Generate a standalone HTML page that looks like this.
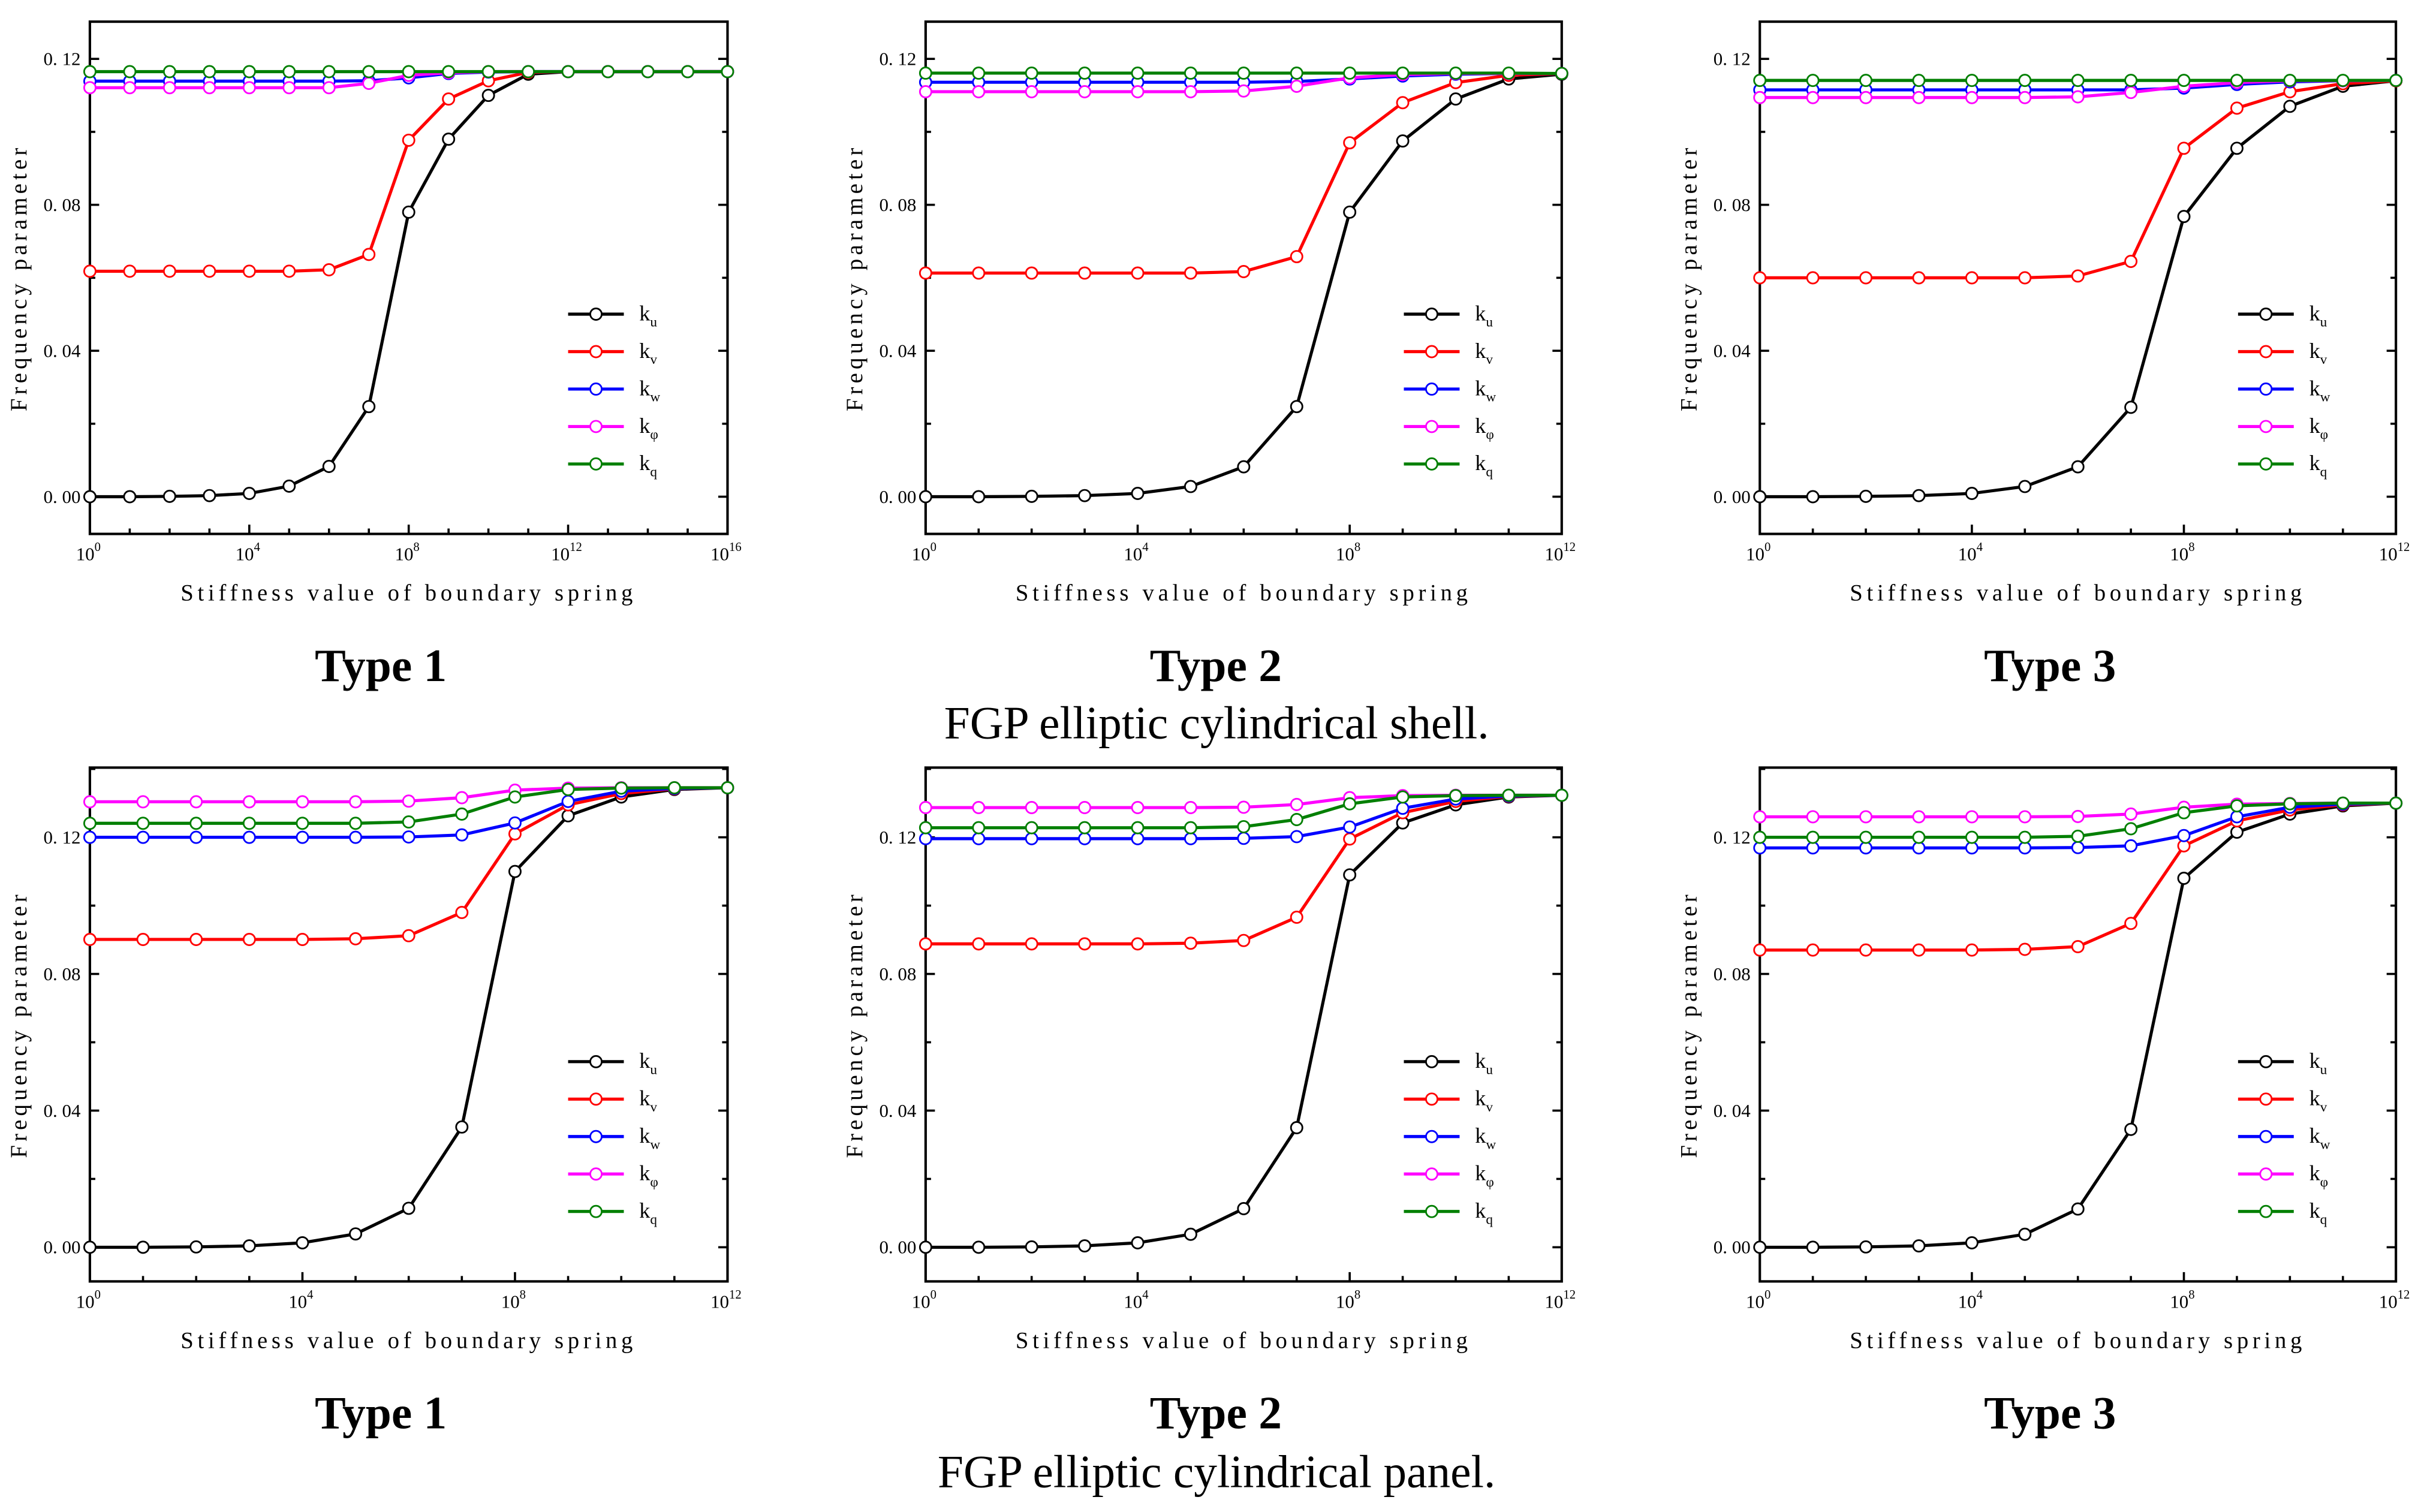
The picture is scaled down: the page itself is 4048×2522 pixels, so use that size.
<!DOCTYPE html>
<html><head><meta charset="utf-8">
<style>
html,body{margin:0;padding:0;background:#fff;}
svg{display:block;}
text{font-family:"Liberation Serif",serif;}
</style></head>
<body>
<svg id="fig" width="4048" height="2522" viewBox="0 0 1568 977" xmlns="http://www.w3.org/2000/svg">
<rect width="1568" height="977" fill="#fff"/>
<g id="root"></g>
</svg>
<script>
const seriesNames = ['u','v','w','φ','q'];
const seriesColors = ['#000','#f00','#00f','#f0f','#007f00'];
// Shell charts (row 1)
const shell1_ku = [0,0,0.0001,0.0003,0.0009,0.0029,0.0083,0.0247,0.078,0.098,0.110,0.1158,0.1165,0.1165,0.1165,0.1165,0.1165];
const shell1_kv = [0.0618,0.0618,0.0618,0.0618,0.0618,0.0618,0.0622,0.0664,0.0977,0.109,0.114,0.1163,0.1165,0.1165,0.1165,0.1165,0.1165];
const shell1_kw = [0.1139,0.1139,0.1139,0.1139,0.1139,0.1139,0.1139,0.114,0.1148,0.116,0.1164,0.1165,0.1165,0.1165,0.1165,0.1165,0.1165];
const shell1_kp = [0.1121,0.1121,0.1121,0.1121,0.1121,0.1121,0.1121,0.1133,0.1155,0.1162,0.1165,0.1165,0.1165,0.1165,0.1165,0.1165,0.1165];
const shell1_kq = [0.1165,0.1165,0.1165,0.1165,0.1165,0.1165,0.1165,0.1165,0.1165,0.1165,0.1165,0.1165,0.1165,0.1165,0.1165,0.1165,0.1165];
const shell2_ku = [0,0,0.0001,0.0003,0.0009,0.0028,0.0082,0.0247,0.078,0.0975,0.109,0.1145,0.1158];
const shell2_kv = [0.0613,0.0613,0.0613,0.0613,0.0613,0.0613,0.0617,0.0658,0.097,0.108,0.1135,0.1155,0.116];
const shell2_kw = [0.1136,0.1136,0.1136,0.1136,0.1136,0.1136,0.1136,0.1138,0.1145,0.1153,0.1158,0.116,0.116];
const shell2_kp = [0.111,0.111,0.111,0.111,0.111,0.111,0.1112,0.1125,0.1148,0.1157,0.116,0.116,0.116];
const shell2_kq = [0.1161,0.1161,0.1161,0.1161,0.1161,0.1161,0.1161,0.1161,0.1161,0.1161,0.1161,0.1161,0.116];
const shell3_ku = [0,0,0.0001,0.0003,0.0009,0.0028,0.0082,0.0245,0.0768,0.0955,0.107,0.1125,0.114];
const shell3_kv = [0.060,0.060,0.060,0.060,0.060,0.060,0.0605,0.0645,0.0955,0.1065,0.111,0.1132,0.114];
const shell3_kw = [0.1115,0.1115,0.1115,0.1115,0.1115,0.1115,0.1115,0.1115,0.112,0.113,0.1137,0.114,0.1141];
const shell3_kp = [0.1094,0.1094,0.1094,0.1094,0.1094,0.1094,0.1096,0.1108,0.1125,0.1135,0.114,0.114,0.1141];
const shell3_kq = [0.1141,0.1141,0.1141,0.1141,0.1141,0.1141,0.1141,0.1141,0.1141,0.1141,0.1141,0.1141,0.1141];
// Panel charts (row 2)
const panel1_ku = [0,0,0.0001,0.0004,0.0013,0.0039,0.0114,0.0352,0.110,0.1263,0.1318,0.134,0.1345];
const panel1_kv = [0.0901,0.0901,0.0901,0.0901,0.0901,0.0903,0.0912,0.098,0.121,0.1295,0.1328,0.1342,0.1345];
const panel1_kw = [0.120,0.120,0.120,0.120,0.120,0.120,0.1201,0.1207,0.1242,0.1305,0.1335,0.1343,0.1345];
const panel1_kp = [0.1304,0.1304,0.1304,0.1304,0.1304,0.1304,0.1306,0.1316,0.1338,0.1344,0.1345,0.1345,0.1345];
const panel1_kq = [0.1241,0.1241,0.1241,0.1241,0.1241,0.1241,0.1245,0.1268,0.1318,0.134,0.1344,0.1345,0.1345];
const panel2_ku = [0,0,0.0001,0.0004,0.0013,0.0038,0.0113,0.035,0.109,0.1242,0.1295,0.1318,0.1323];
const panel2_kv = [0.0888,0.0888,0.0888,0.0888,0.0888,0.089,0.0898,0.0966,0.1195,0.1272,0.1305,0.132,0.1323];
const panel2_kw = [0.1196,0.1196,0.1196,0.1196,0.1196,0.1196,0.1197,0.1202,0.123,0.1285,0.1312,0.1321,0.1323];
const panel2_kp = [0.1287,0.1287,0.1287,0.1287,0.1287,0.1287,0.1288,0.1296,0.1316,0.1322,0.1323,0.1323,0.1323];
const panel2_kq = [0.1228,0.1228,0.1228,0.1228,0.1228,0.1228,0.1231,0.1252,0.1298,0.1318,0.1322,0.1323,0.1323];
const panel3_ku = [0,0,0.0001,0.0004,0.0013,0.0038,0.0112,0.0345,0.108,0.1215,0.1268,0.1292,0.130];
const panel3_kv = [0.087,0.087,0.087,0.087,0.087,0.0872,0.088,0.0948,0.1175,0.1248,0.128,0.1295,0.130];
const panel3_kw = [0.1169,0.1169,0.1169,0.1169,0.1169,0.1169,0.117,0.1175,0.1205,0.126,0.1288,0.1297,0.130];
const panel3_kp = [0.126,0.126,0.126,0.126,0.126,0.126,0.1261,0.1268,0.1288,0.1297,0.1299,0.130,0.130];
const panel3_kq = [0.120,0.120,0.120,0.120,0.120,0.120,0.1203,0.1225,0.1272,0.1292,0.1298,0.130,0.130];
const yTicksRow = [0,0.04,0.08,0.12];
const yTickLabels = ['0. 00','0. 04','0. 08','0. 12'];
const xTickExps = [0,4,8,12,16];

const NS='http://www.w3.org/2000/svg';
const root=document.getElementById('root');
function mk(tag,attrs,parent){const e=document.createElementNS(NS,tag);for(const k in attrs)e.setAttribute(k,attrs[k]);(parent||root).appendChild(e);return e;}

const charts=[
 {x0:58,x1:470,y0:14,y1:345,ymin:-0.0102,ymax:0.1302,dec:16,data:[shell1_ku,shell1_kv,shell1_kw,shell1_kp,shell1_kq],ly:203,title:'Type 1',ty:430},
 {x0:598,x1:1009,y0:14,y1:345,ymin:-0.0102,ymax:0.1302,dec:12,data:[shell2_ku,shell2_kv,shell2_kw,shell2_kp,shell2_kq],ly:203,title:'Type 2',ty:430},
 {x0:1137,x1:1548,y0:14,y1:345,ymin:-0.0102,ymax:0.1302,dec:12,data:[shell3_ku,shell3_kv,shell3_kw,shell3_kp,shell3_kq],ly:203,title:'Type 3',ty:430},
 {x0:58,x1:470,y0:496,y1:828,ymin:-0.01,ymax:0.1404,dec:12,data:[panel1_ku,panel1_kv,panel1_kw,panel1_kp,panel1_kq],ly:686,title:'Type 1',ty:913},
 {x0:598,x1:1009,y0:496,y1:828,ymin:-0.01,ymax:0.1404,dec:12,data:[panel2_ku,panel2_kv,panel2_kw,panel2_kp,panel2_kq],ly:686,title:'Type 2',ty:913},
 {x0:1137,x1:1548,y0:496,y1:828,ymin:-0.01,ymax:0.1404,dec:12,data:[panel3_ku,panel3_kv,panel3_kw,panel3_kp,panel3_kq],ly:686,title:'Type 3',ty:913},
];

charts.forEach((c,ci)=>{
 const g=mk('g',{});
 
 
 const X=i=>c.x0+(c.x1-c.x0)*i/c.dec;
 const Y=v=>c.y1-(c.y1-c.y0)*(v-c.ymin)/(c.ymax-c.ymin);
 for(let v=0;v<=c.ymax+1e-9;v+=0.02){
  const major=Math.round(v*100)%4===0;
  const L=major?6:3.5;
  const y=Y(v);
  const t1=mk('line',{x1:c.x0,x2:c.x0+L,y1:y,y2:y,stroke:'#000','stroke-width':1.4},g);
  
  const t2=mk('line',{x1:c.x1,x2:c.x1-L,y1:y,y2:y,stroke:'#000','stroke-width':1.4},g);
  
 }
 yTicksRow.forEach((v,k)=>{
  const t=mk('text',{x:c.x0-6,y:Y(v)+4,'font-size':12,'text-anchor':'end'},g);
  t.textContent=yTickLabels[k];
  
 });
 for(let i=1;i<c.dec;i++){
  const major=(i%4===0);
  const L=major?6:3.5;
  const t=mk('line',{x1:X(i),x2:X(i),y1:c.y1,y2:c.y1-L,stroke:'#000','stroke-width':1.4},g);
  
 }
 xTickExps.filter(e=>e<=c.dec).forEach(e=>{
  const t=mk('text',{x:X(e)-1,y:c.y1+17,'font-size':12,'text-anchor':'middle'},g);
  t.textContent='10';
  const s=mk('tspan',{'font-size':8,dy:-6},t);s.textContent=String(e);
  
 });
 const fr=mk('rect',{x:c.x0,y:c.y0,width:c.x1-c.x0,height:c.y1-c.y0,fill:'none',stroke:'#000','stroke-width':1.6},g);
 
 const xt=mk('text',{x:(c.x0+c.x1)/2,y:c.y1+43,'font-size':15,'text-anchor':'middle','letter-spacing':2.6},g);
 xt.textContent='Stiffness value of boundary spring';
 
 const yc=(c.y0+c.y1)/2, yx=c.x0-41;
 const yt=mk('text',{x:yx,y:yc,'font-size':15,'text-anchor':'middle','letter-spacing':2.4,transform:`rotate(-90 ${yx} ${yc})`},g);
 yt.textContent='Frequency parameter';
 
 c.data.forEach((arr,si)=>{
  const sg=mk('g',{},g);
  
  
  const pts=arr.map((v,i)=>X(i).toFixed(2)+','+Y(v).toFixed(2)).join(' ');
  const pl=mk('polyline',{points:pts,fill:'none',stroke:seriesColors[si],'stroke-width':2,'stroke-linejoin':'round'},sg);
  
  arr.forEach((v,i)=>{
   const m=mk('circle',{cx:X(i),cy:Y(v),r:3.7,fill:'#fff',stroke:seriesColors[si],'stroke-width':1.1},sg);
   
  });
 });
 const lx=c.x0+309;
 seriesNames.forEach((n,si)=>{
  const y=c.ly+si*24.2;
  const lg=mk('g',{},g);
  
  mk('line',{x1:lx,x2:lx+36,y1:y,y2:y,stroke:seriesColors[si],'stroke-width':2},lg);
  mk('circle',{cx:lx+18,cy:y,r:3.7,fill:'#fff',stroke:seriesColors[si],'stroke-width':1.1},lg);
  const t=mk('text',{x:lx+46,y:y+4,'font-size':14},lg);
  t.textContent='k';
  const s=mk('tspan',{'font-size':9,dy:4},t);s.textContent=n;
 });
 const tt=mk('text',{x:(c.x0+c.x1)/2-18,y:c.ty+10,'font-size':30,'font-weight':'bold','text-anchor':'middle'},g);
 tt.textContent=c.title;
 
});
const cap1=mk('text',{x:786,y:477,'font-size':30,'text-anchor':'middle'});
cap1.textContent='FGP elliptic cylindrical shell.';


const cap2=mk('text',{x:786,y:961,'font-size':30,'text-anchor':'middle'});
cap2.textContent='FGP elliptic cylindrical panel.';


</script>
</body></html>
